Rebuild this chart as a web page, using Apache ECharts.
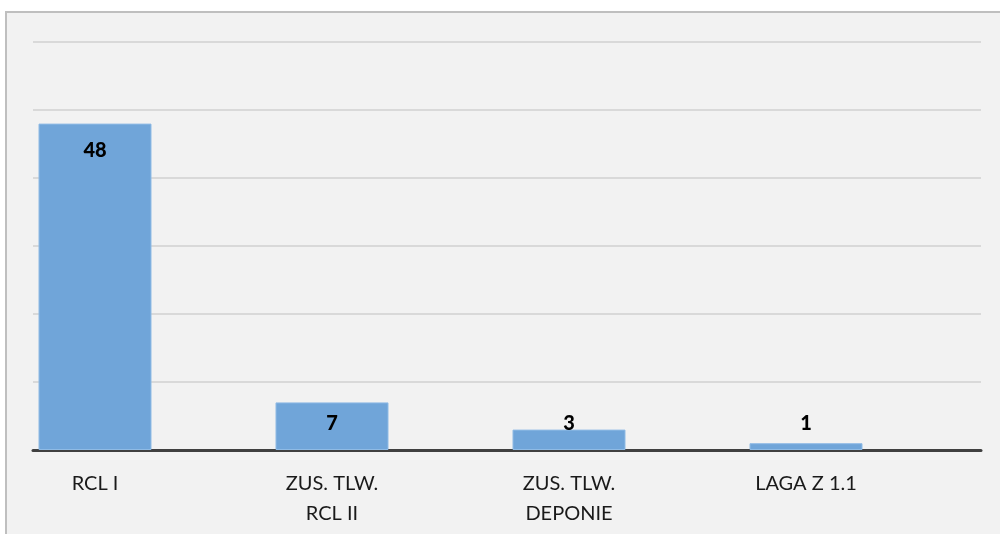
<!DOCTYPE html>
<html>
<head>
<meta charset="utf-8">
<script src="https://cdn.jsdelivr.net/npm/echarts@6/dist/echarts.min.js"></script>
<style>
html,body{margin:0;padding:0;background:#fff;}
#c{width:1000px;height:534px;}
</style>
</head>
<body>
<div id="c"></div>
<script>
const categories = ['RCL I', 'ZUS. TLW.\nRCL II', 'ZUS. TLW.\nDEPONIE', 'LAGA Z 1.1'];
const values = [48, 7, 3, 1];
const yMin = 0, yMax = 60, yInterval = 10;

const chart = echarts.init(document.getElementById('c'), null, {renderer: 'canvas'});
const font = 'Lato, "Open Sans", sans-serif';
chart.setOption({
  animation: false,
  backgroundColor: '#ffffff',
  graphic: [
    {type: 'rect', z: -10, shape: {x: 5, y: 11, width: 995, height: 523}, style: {fill: '#f2f2f2'}},
    {type: 'line', z: -9, shape: {x1: 5, y1: 12, x2: 1000, y2: 12}, style: {stroke: '#bfbfbf', lineWidth: 2}},
    {type: 'line', z: -9, shape: {x1: 6, y1: 11, x2: 6, y2: 534}, style: {stroke: '#bfbfbf', lineWidth: 2}}
  ],
  grid: {left: 33, right: 19, top: 42, bottom: 84},
  xAxis: {
    type: 'category',
    data: categories,
    axisLine: {show: true, lineStyle: {color: '#404040', width: 3}},
    axisTick: {show: false},
    axisLabel: {
      color: '#1a1a1a', fontFamily: font, fontSize: 20, lineHeight: 30,
      margin: 19, padding: [0, 113, 0, 0], interval: 0, align: 'center'
    }
  },
  yAxis: {
    type: 'value', min: yMin, max: yMax, interval: yInterval,
    axisLine: {show: false}, axisTick: {show: false}, axisLabel: {show: false},
    splitLine: {lineStyle: {color: '#d9d9d9', width: 2}}
  },
  series: [
    {
      type: 'bar',
      barWidth: 113,
      barGap: 0,
      itemStyle: {color: '#70a5d9', borderColor: '#8fbbe5', borderWidth: 1},
      label: {show: true, color: '#000', fontWeight: 900, fontSize: 20, fontFamily: font},
      data: values.map(v => ({
        value: v,
        label: v >= 10 ? {position: 'insideTop', distance: 17} : {position: 'insideBottom', distance: 16}
      }))
    },
    {type: 'bar', barWidth: 113, data: values.map(() => null), silent: true}
  ]
});
</script>
</body>
</html>
